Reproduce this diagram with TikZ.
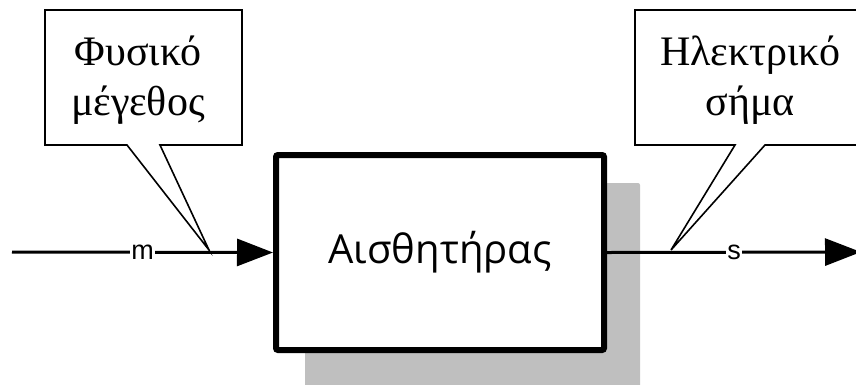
\documentclass[tikz,border=0pt]{standalone}
\usepackage{fontspec}
\setmainfont{Liberation Serif}
\newfontfamily\blocksans{Open Sans}
\newfontfamily\labelsans{Liberation Sans}
\usetikzlibrary{arrows.meta}

\tikzset{
  block/.style={draw=black, line width=6pt, fill=white, rounded corners=2pt,
    minimum width=328pt, minimum height=195pt, inner sep=0pt,
    font=\blocksans\fontsize{40pt}{48pt}\selectfont},
  blockshadow/.style={fill=black!25, draw=none, rounded corners=2pt},
  signal/.style={draw=black, line width=3pt,
    -{Triangle[length=36pt,width=27pt]}},
  siglabel/.style={fill=white, inner sep=1.5pt,
    font=\labelsans\fontsize{27pt}{30pt}\selectfont},
  callout/.style={draw=black, line width=1.6pt, fill=white, line join=miter},
  callouttext/.style={anchor=base, inner sep=0pt,
    font=\fontsize{42pt}{50pt}\selectfont}
}

\begin{document}
\begin{tikzpicture}[x=1pt, y=-1pt]
  \useasboundingbox (0,0) rectangle (856,384);

  % drop shadow behind the sensor block
  \fill[blockshadow] (305,183) rectangle (640,400);

  % sensor block
  \node[block] (sensor) at (440,252.5) {Αισθητήρας};

  % signal end points
  \coordinate (input) at (12,252);
  \coordinate (output) at (861,252);

  % input and output signals
  \draw[signal] (input) -- node[siglabel] (mlabel) {m} (sensor.west);
  \draw[signal] (sensor.east) -- node[siglabel] (slabel) {s} (output);

  % callout tips on the signal lines
  \coordinate (tipin) at (209,250);
  \coordinate (tipout) at (671,250);

  % callout for the physical quantity
  \draw[callout] (45,10) -- (242,10) -- (242,145) -- (160,145)
    -- (tipin) -- (127,145) -- (45,145) -- cycle;
  \node[callouttext] (phys1) at (138,65) {Φυσικό};
  \node[callouttext] (phys2) at (138,115) {μέγεθος};

  % callout for the electrical signal
  \draw[callout] (635,10) -- (880,10) -- (880,145) -- (765,145)
    -- (tipout) -- (735,145) -- (635,145) -- cycle;
  \node[callouttext] (elec1) at (750,65) {Ηλεκτρικό};
  \node[callouttext] (elec2) at (750,115) {σήμα};
\end{tikzpicture}
\end{document}
